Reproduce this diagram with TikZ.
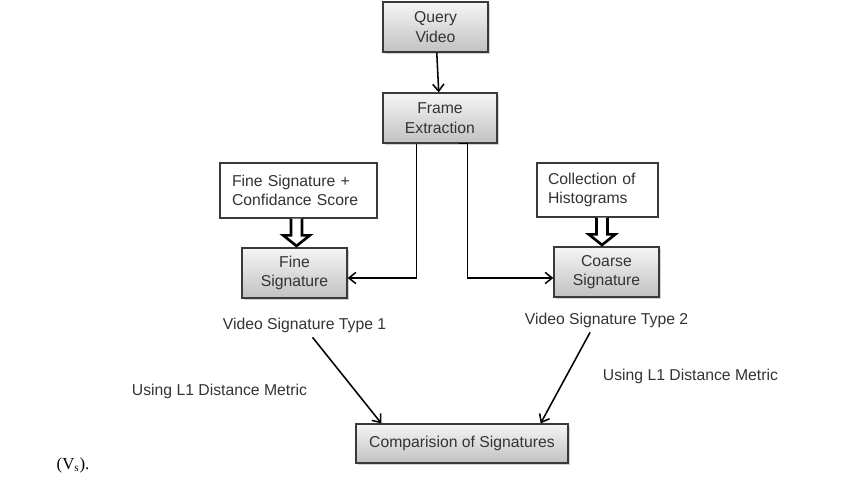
\documentclass[tikz,border=0pt]{standalone}
\usepackage{fontspec}
\setmainfont{Liberation Sans}
\newfontfamily\timesfont{Liberation Serif}
\usetikzlibrary{arrows.meta,calc,shadows}

\definecolor{boxline}{HTML}{3A3A3A}
\definecolor{boxtop}{HTML}{F5F5F5}
\definecolor{boxbottom}{HTML}{C2C2C2}
\definecolor{inktext}{HTML}{333333}

\tikzset{
  graybox/.style={draw=boxline, line width=0.9pt, top color=boxtop, bottom color=boxbottom,
    drop shadow={shadow xshift=1.3pt, shadow yshift=-1.3pt, opacity=0.35},
    text=inktext, align=center, inner sep=0pt, minimum width=2.625cm, minimum height=1.25cm},
  notebox/.style={draw=boxline, line width=0.9pt, fill=white, text=inktext, align=left,
    inner xsep=0.3cm, inner ysep=0pt, minimum height=1.375cm},
  plaintext/.style={text=inktext},
  arr/.style={line width=1.1pt, -{Straight Barb[length=5pt,width=8pt]}},
  hollow/.style={line width=1.9pt, fill=white, line join=miter},
}

% block arrow between two nodes
\newcommand{\hollowarrow}[2]{%
  \path ($(#1.south)!0.5!(#2.north)$) coordinate (mid);
  \draw[hollow] let \p1=(mid), \p2=(#1.south), \p3=(#2.north) in
    (\x1-3.9pt,\y2) -- (\x1-3.9pt,\y3+8.5pt) -- (\x1-9.4pt,\y3+8.5pt) -- (\x1,\y3+1pt)
    -- (\x1+9.4pt,\y3+8.5pt) -- (\x1+3.9pt,\y3+8.5pt) -- (\x1+3.9pt,\y2);
}

\begin{document}
\begin{tikzpicture}[font=\fontsize{11.2}{14}\selectfont]
  \useasboundingbox (0,0) rectangle (21.55,11.95);

  % 1. Boxes of the pipeline
  \node[graybox] (query) at (10.8875,11.275) {Query\\Video};
  \node[graybox, minimum width=2.85cm] (frame) at (11.0,9.0) {Frame\\Extraction};
  \node[graybox] (fine) at (7.3625,5.125) {Fine\\Signature};
  \node[graybox] (coarse) at (15.1625,5.15) {Coarse\\Signature};
  \node[graybox, minimum width=5.3cm, minimum height=0.975cm] (comp) at (11.55,0.8625)
    {Comparision of Signatures};

  % 2. Notes above the signatures
  \node[notebox, text width=3.325cm] (finenote) at (7.4625,7.1875)
    {Fine Signature +\\Confidance Score};
  \node[notebox, text width=2.475cm, inner xsep=0.275cm, minimum height=1.35cm] (histnote)
    at (14.9375,7.2) {Collection of\\Histograms};

  % 3. Free texts
  \node[plaintext] (type1) at (7.6125,3.825) {Video Signature Type 1};
  \node[plaintext] (type2) at (15.1625,3.95) {Video Signature Type 2};
  \node[plaintext] (metric1) at (5.4875,2.175) {Using L1 Distance Metric};
  \node[plaintext] (metric2) at (17.2625,2.55) {Using L1 Distance Metric};
  \node[font=\timesfont\fontsize{12}{14}\selectfont] (vs) at (1.825,0.325) {(V\textsubscript{s}).};

  % 4. Connectors
  \draw[arr] (query) -- (frame);
  \coordinate (fl) at ($(frame.south west)+(0.85,0)$);
  \coordinate (fr0) at ($(frame.south west)+(1.925,0)$);
  \coordinate (fr) at ($(frame.south west)+(2.125,0)$);
  \draw[arr] (fl) |- ($(fine.east)+(0,-0.125)$);
  \draw[arr] (fr0) -- (fr) |- ($(coarse.west)+(0,-0.15)$);
  \hollowarrow{finenote}{fine}
  \hollowarrow{histnote}{coarse}
  \draw[arr] ($(type1.south)+(0.2,0)$) -- ($(comp.north west)+(0.65,0)$);
  \draw[arr] ($(type2.south)+(-0.41,0)$) -- ($(comp.north east)+(-0.7,0)$);
\end{tikzpicture}
\end{document}
